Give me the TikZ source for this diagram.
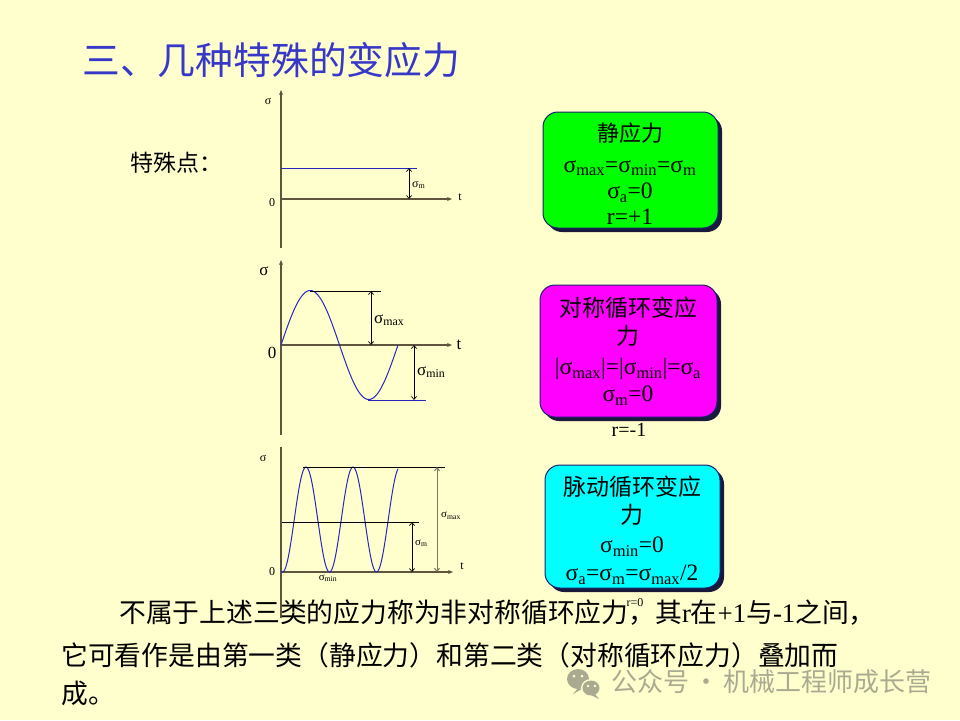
\documentclass[tikz,border=0pt]{standalone}
\usepackage{fontspec}
\setmainfont{Liberation Serif}
\newfontfamily\cjk{Noto Sans CJK SC}
\newfontfamily\wmfont{Noto Sans CJK SC}
\usetikzlibrary{arrows.meta,shadows}
\definecolor{bg}{RGB}{255,255,206}
\definecolor{titleblue}{RGB}{55,55,200}
\definecolor{axisc}{RGB}{95,85,60}
\definecolor{curvec}{RGB}{40,40,190}
\definecolor{boxedge}{RGB}{30,30,110}
\definecolor{shadowc}{RGB}{25,25,60}
\definecolor{wm}{RGB}{170,170,145}
\definecolor{greyarrow}{RGB}{120,120,100}
\definecolor{boxgreen}{RGB}{0,255,0}
\definecolor{boxmag}{RGB}{255,0,255}
\definecolor{boxcyan}{RGB}{0,255,255}
\newcommand{\sg}[1]{σ\textsubscript{#1}}
\newcommand{\fs}[1]{\fontsize{#1}{#1}\selectfont}
\begin{document}
\begin{tikzpicture}[x=1pt,y=-1pt,
  axisline/.style={draw=axisc, line width=1.1pt, -{Stealth[length=5pt,width=4pt]}},
  plainaxis/.style={draw=axisc, line width=1.1pt},
  curve/.style={draw=curvec, line width=1pt},
  hline/.style={draw=black, line width=0.7pt},
  dim/.style={draw=black, line width=0.7pt, {Straight Barb[length=3pt,width=5pt]}-{Straight Barb[length=3pt,width=5pt]}},
  lab/.style={inner sep=0pt, font=\fs{12}},
  labb/.style={inner sep=0pt, font=\fs{17}},
  sbox/.style={draw=boxedge, line width=1pt, rounded corners=15pt, inner sep=0pt,
    drop shadow={shadow xshift=4pt, shadow yshift=-4pt, fill=shadowc, opacity=1}},
  boxtxt/.style={inner sep=0pt, font=\fs{23.5}},
  boxcjk/.style={inner sep=0pt, font=\cjk\fs{22}},
  body/.style={inner sep=0pt, anchor=west, font=\fs{26.8}}
]
\useasboundingbox[fill=bg] (0,0) rectangle (960,720);

% title
\node[inner sep=0pt, anchor=west, text=titleblue, font=\cjk\fs{37.8}] (title) at (82,60) {三、几种特殊的变应力};
\node[inner sep=0pt, anchor=west, font=\cjk\fs{23}] (tsd) at (130,163) {特殊点：};

% ---------- graph 1 ----------
\coordinate (g1o) at (281,199);
\coordinate (g1b) at (281,248);
\coordinate (g1t) at (281,90);
\coordinate (g1e) at (452,199);
\draw[axisline] (g1b) -- (g1t);
\draw[axisline] (g1o) -- (g1e);
\coordinate (g1l0) at (281,168);
\coordinate (g1l1) at (417,168);
\draw[draw=curvec, line width=1pt] (g1l0) -- (g1l1);
\coordinate (g1a) at (409,168);
\coordinate (g1b2) at (409,199);
\draw[dim] (g1a) -- (g1b2);
\node[lab, anchor=west] (g1sm) at (412,185) {\sg{m}};
\node[lab] (g1s) at (268,101) {σ};
\node[lab] (g1z) at (272,203) {0};
\node[lab] (g1tt) at (460,197) {t};

% ---------- graph 2 ----------
\coordinate (g2o) at (281,345);
\coordinate (g2b) at (281,435);
\coordinate (g2t) at (281,260);
\coordinate (g2e) at (452,345);
\draw[axisline] (g2b) -- (g2t);
\draw[axisline] (g2o) -- (g2e);
\draw[curve] plot[domain=281:398, samples=150, smooth] (\x, {345-54.5*sin((\x-281)/117*360)});
\coordinate (g2m0) at (310,291);
\coordinate (g2m1) at (381,291);
\draw[hline] (g2m0) -- (g2m1);
\coordinate (g2n0) at (368,400);
\coordinate (g2n1) at (426,400);
\draw[draw=curvec, line width=1pt] (g2n0) -- (g2n1);
\coordinate (g2a0) at (371,291);
\coordinate (g2a1) at (371,345);
\draw[dim] (g2a0) -- (g2a1);
\coordinate (g2c0) at (414,345);
\coordinate (g2c1) at (414,400);
\draw[dim] (g2c0) -- (g2c1);
\node[labb, anchor=west] (g2smax) at (374,320) {\sg{max}};
\node[labb, anchor=west] (g2smin) at (417,372) {\sg{min}};
\node[labb] (g2s) at (264,271) {σ};
\node[labb] (g2z) at (272,353) {0};
\node[labb] (g2tt) at (459,345) {t};

% ---------- graph 3 ----------
\coordinate (g3o) at (281,572);
\coordinate (g3b) at (281,618);
\coordinate (g3t) at (281,447);
\coordinate (g3e) at (453,572);
\draw[plainaxis] (g3b) -- (g3t);
\draw[axisline] (g3o) -- (g3e);
\draw[curve] plot[domain=281:398, samples=200, smooth] (\x, {519.5-52.5*cos((\x-306)/47*360)});
\coordinate (g3m0) at (303,467);
\coordinate (g3m1) at (445,467);
\draw[hline] (g3m0) -- (g3m1);
\coordinate (g3n0) at (282,522);
\coordinate (g3n1) at (419,522);
\draw[hline] (g3n0) -- (g3n1);
\coordinate (g3a0) at (412,522);
\coordinate (g3a1) at (412,572);
\draw[dim] (g3a0) -- (g3a1);
\coordinate (g3c0) at (437,467);
\coordinate (g3c1) at (437,572);
\draw[dim, draw=greyarrow, line width=1pt] (g3c0) -- (g3c1);
\node[lab, anchor=west, font=\fs{11}] (g3sm) at (415,543) {\sg{m}};
\node[lab, anchor=west, font=\fs{11}] (g3smax) at (441,516) {\sg{max}};
\node[lab, font=\fs{11}] (g3smin) at (328,578) {\sg{min}};
\node[lab] (g3s) at (263,458) {σ};
\node[lab] (g3z) at (272,572) {0};
\node[lab] (g3tt) at (462,566) {t};

% ---------- boxes ----------
\node[sbox, fill=boxgreen, minimum width=175pt, minimum height=116pt] (b1) at (630.5,170) {};
\node[boxcjk] (b1a) at (630,133) {静应力};
\node[boxtxt] (b1b) at (630,168) {\sg{max}=\sg{min}=\sg{m}};
\node[boxtxt] (b1c) at (630,193) {\sg{a}=0};
\node[boxtxt] (b1d) at (630,217) {r=+1};

\node[sbox, fill=boxmag, minimum width=177pt, minimum height=132pt] (b2) at (628.5,351) {};
\node[boxcjk, font=\cjk\fs{23}] (b2a) at (628,308) {对称循环变应};
\node[boxcjk, font=\cjk\fs{23}] (b2b) at (628,336) {力};
\node[boxtxt] (b2c) at (628,369) {|\sg{max}|=|\sg{min}|=\sg{a}};
\node[boxtxt] (b2d) at (628,396) {\sg{m}=0};
\node[boxtxt, font=\fs{20}] (b2e) at (629,430) {r=-1};

\node[sbox, fill=boxcyan, minimum width=175pt, minimum height=123pt] (b3) at (632.5,526.5) {};
\node[boxcjk, font=\cjk\fs{23}] (b3a) at (632,487) {脉动循环变应};
\node[boxcjk, font=\cjk\fs{23}] (b3b) at (632,515) {力};
\node[boxtxt] (b3c) at (632,547) {\sg{min}=0};
\node[boxtxt] (b3d) at (632,575) {\sg{a}=\sg{m}=\sg{max}/2};
\node[boxtxt, font=\fs{12}] (b3e) at (635,603) {r=0};

% ---------- body text ----------
\node[body] (p1) at (119,613) {{\cjk 不属于上述三类的应力称为非对称循环应力，其}r{\cjk 在}+1{\cjk 与}-1{\cjk 之间，}};
\node[body] (p2) at (61,655) {\cjk 它可看作是由第一类（静应力）和第二类（对称循环应力）叠加而};
\node[body] (p3) at (61,693) {\cjk 成。};

% ---------- watermark ----------
\fill[wm] (578,679) ellipse (11pt and 10pt);
\fill[wm] (578,688) -- (573,694) -- (582,689) -- cycle;
\fill[bg] (591,688) ellipse (10pt and 9pt);
\fill[wm] (591,688) ellipse (8.5pt and 7.5pt);
\fill[wm] (595,694) -- (599,699) -- (591,695) -- cycle;
\fill[bg] (574,676) circle (1.5pt);
\fill[bg] (582,676) circle (1.5pt);
\fill[bg] (588,686) circle (1.3pt);
\fill[bg] (595,686) circle (1.3pt);
\node[inner sep=0pt, anchor=west, text=wm, font=\wmfont\fs{26}] (wmt) at (611,682) {公众号\,·\,机械工程师成长营};
\end{tikzpicture}
\end{document}
